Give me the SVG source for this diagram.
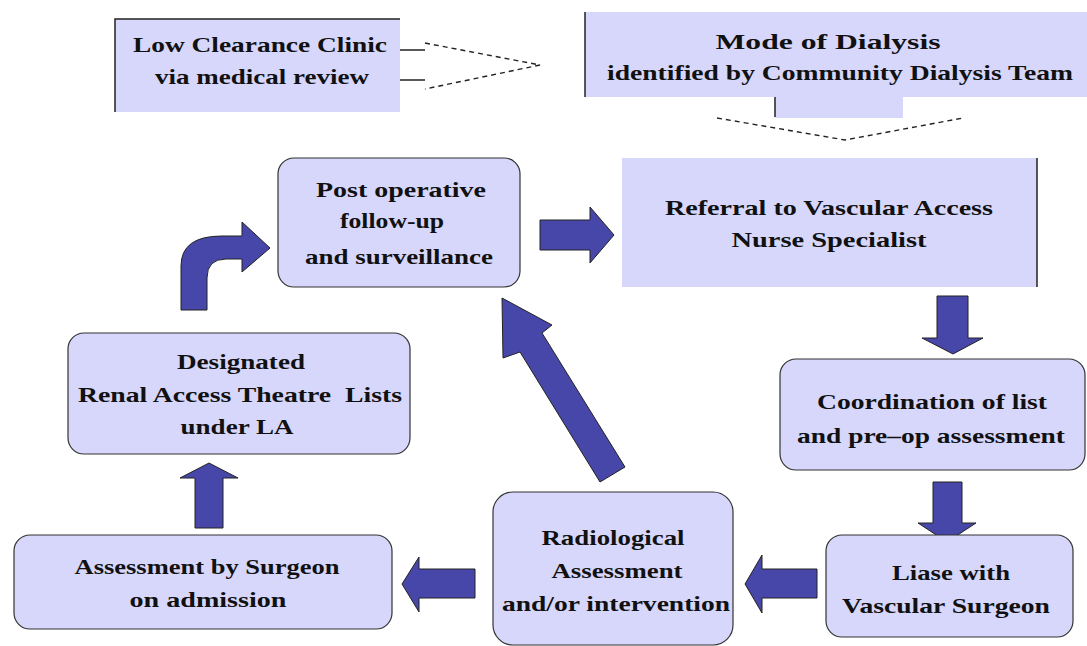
<svg xmlns="http://www.w3.org/2000/svg" width="1087" height="646" viewBox="0 0 1087 646">
<style>
.box{fill:#d7d7fb;stroke:none}
.rbox{fill:#d7d7fb;stroke:#333;stroke-width:1.2}
.edge{stroke:#222;stroke-width:1.5;fill:none}
.t{font-family:"Liberation Serif","Times New Roman",serif;font-weight:bold;font-size:22px;fill:#111;text-anchor:middle}
.arr{fill:#4747a9;stroke:#222;stroke-width:1}
.dash{fill:none;stroke:#222;stroke-width:1.4;stroke-dasharray:5 4}
.sol{fill:none;stroke:#222;stroke-width:1.5}
</style>
<rect width="1087" height="646" fill="#ffffff"/>
<g id="connectors">
  <g id="c-low-to-mode">
    <line class="sol" x1="400" y1="50" x2="425" y2="50"/>
    <line class="sol" x1="400" y1="80" x2="425" y2="80"/>
    <polyline class="dash" points="425,43 540,65 425,89"/>
  </g>
  <g id="c-mode-to-referral">
    <rect x="775" y="97" width="128" height="21" fill="#d7d7fb"/>
    <line class="sol" x1="775" y1="97" x2="775" y2="117"/>
    <polyline class="dash" points="717,118 845,140 963,118"/>
  </g>
  <polygon id="c-post-to-referral" class="arr" points="540,220 590,220 590,207 614,235 590,263 590,250 540,250"/>
  <polygon id="c-referral-to-coord" class="arr" points="937,296 968,296 968,338 983,338 953,354 922,338 937,338"/>
  <polygon id="c-coord-to-liase" class="arr" points="933,482 962,482 962,523 976,523 947,542 918,523 933,523"/>
  <polygon id="c-liase-to-radio" class="arr" points="817,569 762,569 762,555 745,584 762,613 762,598 817,598"/>
  <polygon id="c-radio-to-assess" class="arr" points="475,569 419,569 419,557 402,584 419,612 419,598 475,598"/>
  <polygon id="c-assess-to-desig" class="arr" points="195,528 195,478 180,478 209,463 238,478 223,478 223,528"/>
  <path id="c-desig-to-post" class="arr" d="M181,310 L181,266 Q181,236 222,236 L242,236 L242,222 L270,248 L242,272 L242,259 L226,259 Q207,259 207,278 L207,310 Z"/>
  <polygon id="c-radio-to-post" class="arr" points="502,298 552,325 542,333 625,467 600,482 520,352 503,358"/>
</g>
<g id="n-low">
  <rect class="box" x="115" y="19" width="285" height="93"/>
  <polyline class="edge" points="115,112 115,19 400,19"/>
  <text class="t" x="260" y="52" textLength="254" lengthAdjust="spacingAndGlyphs">Low Clearance Clinic</text>
  <text class="t" x="262" y="84" textLength="214" lengthAdjust="spacingAndGlyphs">via medical review</text>
</g>
<g id="n-mode">
  <rect class="box" x="585" y="12" width="502" height="85"/>
  <line class="edge" x1="585" y1="12" x2="585" y2="97"/>
  <text class="t" x="828" y="49" textLength="225" lengthAdjust="spacingAndGlyphs">Mode of Dialysis</text>
  <text class="t" x="840" y="80" textLength="466" lengthAdjust="spacingAndGlyphs">identified by Community Dialysis Team</text>
</g>
<g id="n-post">
  <rect class="rbox" x="278" y="158" width="242" height="129" rx="16"/>
  <text class="t" x="401" y="197" textLength="170" lengthAdjust="spacingAndGlyphs">Post operative</text>
  <text class="t" x="392" y="228" textLength="104" lengthAdjust="spacingAndGlyphs">follow-up</text>
  <text class="t" x="399" y="264" textLength="188" lengthAdjust="spacingAndGlyphs">and surveillance</text>
</g>
<g id="n-referral">
  <rect class="box" x="622" y="158" width="415" height="129"/>
  <line class="edge" x1="1037" y1="158" x2="1037" y2="287"/>
  <text class="t" x="829" y="215" textLength="328" lengthAdjust="spacingAndGlyphs">Referral to Vascular Access</text>
  <text class="t" x="829" y="247" textLength="195" lengthAdjust="spacingAndGlyphs">Nurse Specialist</text>
</g>
<g id="n-coord">
  <rect class="rbox" x="780" y="359" width="305" height="111" rx="16"/>
  <text class="t" x="932" y="409" textLength="230" lengthAdjust="spacingAndGlyphs">Coordination of list</text>
  <text class="t" x="931" y="443" textLength="268" lengthAdjust="spacingAndGlyphs">and pre–op assessment</text>
</g>
<g id="n-liase">
  <rect class="rbox" x="826" y="535" width="247" height="102" rx="16"/>
  <text class="t" x="951" y="580" textLength="118" lengthAdjust="spacingAndGlyphs">Liase with</text>
  <text class="t" x="946" y="613" textLength="208" lengthAdjust="spacingAndGlyphs">Vascular Surgeon</text>
</g>
<g id="n-radio">
  <rect class="rbox" x="493" y="492" width="240" height="153" rx="20"/>
  <text class="t" x="613" y="545" textLength="143" lengthAdjust="spacingAndGlyphs">Radiological</text>
  <text class="t" x="617" y="578" textLength="131" lengthAdjust="spacingAndGlyphs">Assessment</text>
  <text class="t" x="616" y="611" textLength="228" lengthAdjust="spacingAndGlyphs">and/or intervention</text>
</g>
<g id="n-assess">
  <rect class="rbox" x="14" y="535" width="378" height="94" rx="16"/>
  <text class="t" x="207" y="574" textLength="265" lengthAdjust="spacingAndGlyphs">Assessment by Surgeon</text>
  <text class="t" x="208" y="607" textLength="157" lengthAdjust="spacingAndGlyphs">on admission</text>
</g>
<g id="n-desig">
  <rect class="rbox" x="68" y="333" width="342" height="121" rx="16"/>
  <text class="t" x="241" y="369" textLength="128" lengthAdjust="spacingAndGlyphs">Designated</text>
  <text class="t" x="240" y="402" textLength="324" lengthAdjust="spacingAndGlyphs" xml:space="preserve">Renal Access Theatre  Lists</text>
  <text class="t" x="237" y="434" textLength="113" lengthAdjust="spacingAndGlyphs">under LA</text>
</g>
</svg>
